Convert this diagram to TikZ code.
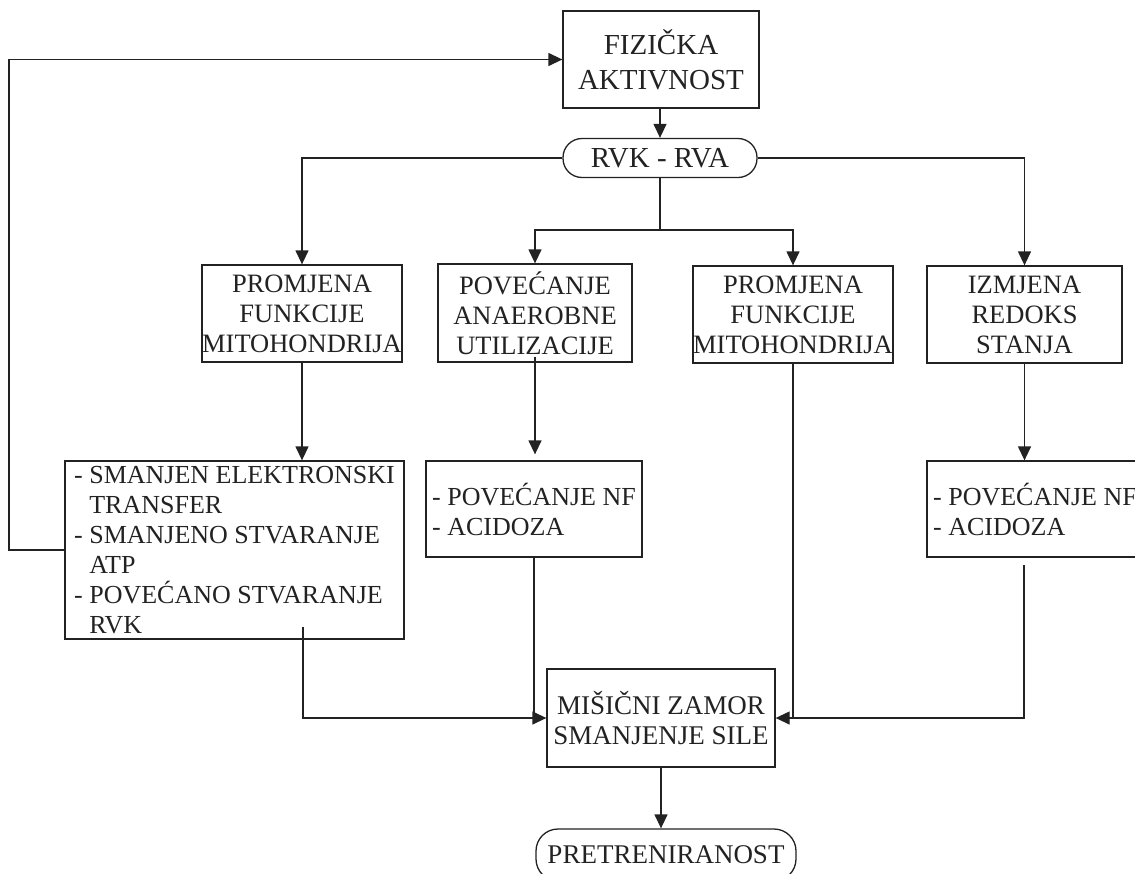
\documentclass[tikz,border=0pt]{standalone}
\usepackage{fontspec}
\setmainfont{Liberation Serif}
\usetikzlibrary{arrows.meta,positioning}
\definecolor{ink}{HTML}{222222}
\tikzset{
  box/.style={draw=ink, line width=1.3pt, text=ink, inner sep=0pt, align=center,
    font=\fontsize{26.5}{30}\selectfont},
  listbox/.style={box, align=left, font=\fontsize{26}{30}\selectfont},
  pill/.style={box, rounded corners=19pt},
  conn/.style={draw=ink, line width=1.3pt},
  arr/.style={conn, -{Triangle[length=14pt,width=13pt]}}
}
\begin{document}
\begin{tikzpicture}[x=1pt,y=-1pt]
\useasboundingbox (0,0) rectangle (1135,873);
\clip (0,0) rectangle (1135,873);
\node[box, minimum width=196pt, minimum height=97pt, font=\fontsize{29}{35}\selectfont] (fiz) at (661,59.5) {FIZIČKA\\AKTIVNOST};
\node[pill, minimum width=194pt, minimum height=39pt, font=\fontsize{29}{30}\selectfont] (rvk) at (660,158) {RVK - RVA};
\node[box, minimum width=194pt, minimum height=97pt] (A) at (302,313.5) {PROMJENA\\FUNKCIJE\\MITOHONDRIJA};
\node[box, minimum width=194pt, minimum height=98pt] (B) at (535,313) {POVEĆANJE\\ANAEROBNE\\UTILIZACIJE};
\node[box, minimum width=194pt, minimum height=97pt] (C) at (793,314.5) {PROMJENA\\FUNKCIJE\\MITOHONDRIJA};
\node[box, minimum width=195pt, minimum height=97pt] (D) at (1024.5,314.5) {IZMJENA\\REDOKS\\STANJA};
\node[listbox, minimum width=339pt, minimum height=178pt] (E) at (234.5,550)
  {- SMANJEN ELEKTRONSKI\\\hphantom{- }TRANSFER\\- SMANJENO STVARANJE\\\hphantom{- }ATP\\- POVEĆANO STVARANJE\\\hphantom{- }RVK};
\node[listbox, minimum width=216pt, minimum height=96pt] (F) at (534,509) {- POVEĆANJE NF\\- ACIDOZA};
\node[listbox, minimum width=216pt, minimum height=96pt] (G) at (1035,509) {- POVEĆANJE NF\\- ACIDOZA};
\node[box, minimum width=228pt, minimum height=98pt, font=\fontsize{27}{30}\selectfont] (H) at (661,718) {MIŠIČNI ZAMOR\\SMANJENJE SILE};
\node[pill, minimum width=260pt, minimum height=52pt, rounded corners=22pt, font=\fontsize{27}{30}\selectfont] (I) at (666,855) {PRETRENIRANOST};
\coordinate (sp) at (660,230);
\coordinate (eout) at (303,627);
\coordinate (gout) at (1024,565);
\coordinate (fb) at (9,550);
\draw[arr] (fiz.south -| rvk.north) -- (rvk.north);
\draw[arr] (rvk.west) -| (A.north);
\draw[arr] (rvk.east) -| (D.north);
\draw[conn] (rvk.south) -- (sp);
\draw[arr] (sp) -| (B.north);
\draw[arr] (sp) -| (C.north);
\draw[arr] (A.south) -- (A.south |- E.north);
\draw[arr] ([yshift=6pt]B.south) -- ([yshift=6pt]B.south |- F.north);
\draw[arr] (D.south) -- (D.south |- G.north);
\draw[arr] (E.west) -- (fb) |- (fiz.west);
\draw[arr] (eout) |- (H.west);
\draw[conn] (F.south) -- (F.south |- H.west);
\draw[conn] (C.south) -- (C.south |- H.east);
\draw[arr] (gout) |- (H.east);
\draw[arr] (H.south) -- (H.south |- I.north);
\end{tikzpicture}
\end{document}
